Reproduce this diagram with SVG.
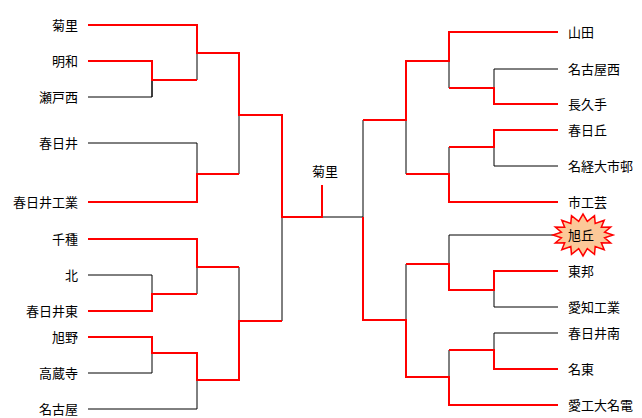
<svg xmlns="http://www.w3.org/2000/svg" width="642" height="418" viewBox="0 0 642 418">
<style>
.r{stroke:#ff0000;stroke-width:2;fill:none}
.b{stroke:#000;stroke-width:1;fill:none}
text{font-family:"Noto Sans CJK JP","Liberation Sans",sans-serif;font-size:13px;fill:#000}
.L{text-anchor:end}
</style>
<rect width="642" height="418" fill="#fff"/>
<g id="connectors">
<path class="b" d="M88,97H152V80M88,143H197V174M152,80V97M197,53V80M239,115V174M88,275H152V294M88,373H152V353M88,409H197V380M197,267V294M239,267V321M282,217V321M322,217H363M494,69H558M494,69V88M449,61V88M494,166H558M494,147V166M449,147V174M406,120V174M449,235H560M449,235V264M494,307H558M494,290V307M494,333H558M494,333V350M449,350V377M406,264V320M363,120V217"/>
<path class="r" d="M88,25H197V53H239V115H282V217H322V185M88,61H152V80H197M88,202H197V174H239M88,239H197V267H239M88,311H152V294H197M88,337H152V353H197V380H239V321H282M558,32H449V61H406V120H363M558,104H494V88H449M558,130H494V147H449M558,202H449V174H406M558,271H494V290H449V264H406M558,369H494V350H449M558,405H449V377H406V320H363V217"/>
</g>
<g id="final"><text x="325" y="176" text-anchor="middle">菊里</text></g>
<g id="left">
<text class="L" x="78" y="30">菊里</text>
<text class="L" x="78" y="66">明和</text>
<text class="L" x="78" y="102">瀬戸西</text>
<text class="L" x="78" y="148">春日井</text>
<text class="L" x="78" y="207">春日井工業</text>
<text class="L" x="78" y="244">千種</text>
<text class="L" x="78" y="280">北</text>
<text class="L" x="78" y="316">春日井東</text>
<text class="L" x="78" y="342">旭野</text>
<text class="L" x="78" y="378">高蔵寺</text>
<text class="L" x="78" y="414">名古屋</text>
</g>
<g id="right">
<text x="568" y="37">山田</text>
<text x="568" y="74">名古屋西</text>
<text x="568" y="109">長久手</text>
<text x="568" y="135">春日丘</text>
<text x="568" y="171">名経大市邨</text>
<text x="568" y="207">市工芸</text>
<g id="asahigaoka">
<polygon points="613,235 604.6,237.7 610.7,243 601.3,242.8 604.2,249.8 595.2,246.6 594.5,254.4 587.3,248.7 583,256 578.7,248.7 571.5,254.4 570.8,246.6 561.8,249.8 564.7,242.8 555.3,243 561.4,237.7 553,235 561.4,232.3 555.3,227 564.7,227.2 561.8,220.2 570.8,223.4 571.5,215.6 578.7,221.3 583,214 587.3,221.3 594.5,215.6 595.2,223.4 604.2,220.2 601.3,227.2 610.7,227 604.6,232.3" fill="#fcc898" stroke="#ff0000" stroke-width="1.5"/>
<text x="568" y="240">旭丘</text>
</g>
<text x="568" y="276">東邦</text>
<text x="568" y="312">愛知工業</text>
<text x="568" y="338">春日井南</text>
<text x="568" y="374">名東</text>
<text x="568" y="410">愛工大名電</text>
</g>
</svg>
